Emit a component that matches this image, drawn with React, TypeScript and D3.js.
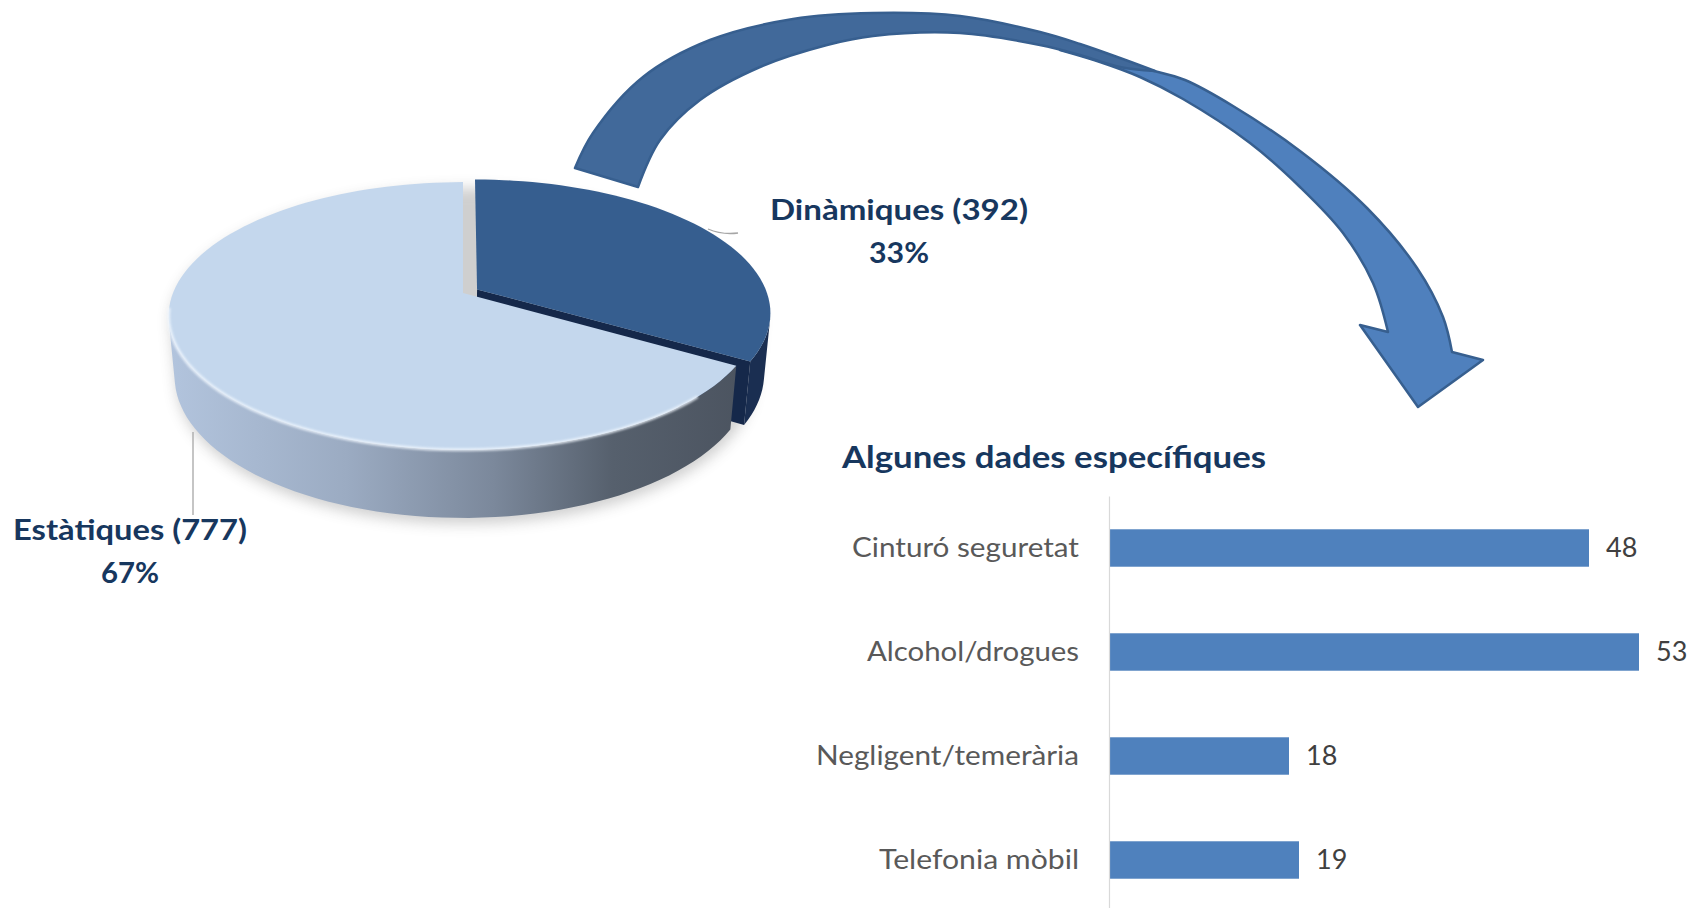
import { useEffect, useRef } from 'react';
import * as d3 from 'd3';

// pie: tipus de col·lisió
const pieNames = ['Dinàmiques', 'Estàtiques'];
const pieValues = [392, 777];
const piePercents = ['33%', '67%'];

// barres: algunes dades específiques
const barTitle = 'Algunes dades específiques';
const barCategories = ['Cinturó seguretat', 'Alcohol/drogues', 'Negligent/temerària', 'Telefonia mòbil'];
const barValues = [48, 53, 18, 19];

const W = 1688;
const H = 908;
const NAVY = '#17375e';
const FONT = 'Lato, "Open Sans", "DejaVu Sans", sans-serif';

// 3d pie projection
const P = { cx: 463, cy: 293, k: 290, r: 0.192, sin: 0.448, cos: 0.894, depth: 0.235, explode: 0.056 };

function proj(u: number, v: number, w: number): [number, number] {
  const Y = w * P.cos - v * P.sin;
  const Z = 1 - P.r * (v * P.cos + w * P.sin);
  return [P.cx + (P.k * u) / Z, P.cy - (P.k * Y) / Z];
}

function rim(a: number, w: number, off: number[]) {
  return proj(Math.sin(a) + off[0], -Math.cos(a) + off[1], w);
}

function arcPts(a0: number, a1: number, w: number, off: number[]) {
  const n = Math.max(2, Math.ceil(((a1 - a0) / Math.PI) * 80));
  return d3.range(n + 1).map(i => rim(a0 + ((a1 - a0) * i) / n, w, off));
}

const poly = (pts: [number, number][]) => (d3.line()(pts) || '') + 'Z';
const smooth = (pts: [number, number][]) => d3.line().curve(d3.curveCatmullRom.alpha(0.5))(pts) || '';

// decorative curved arrow outline
const backUpper: [number, number][] = [[575, 168], [593, 133], [643, 77], [710, 40], [793, 19], [873, 13], [960, 16], [1040, 32], [1080, 44], [1120, 58], [1155, 71]];
const backLower: [number, number][] = [[1155, 71], [1120, 67], [1080, 55], [1040, 45], [960, 33], [873, 36], [827, 45], [760, 67], [700, 100], [660, 140], [638, 187]];
const frontOuter: [number, number][] = [[1060, 46], [1110, 60], [1150, 70], [1185, 80], [1233, 106], [1300, 151], [1367, 208], [1417, 268], [1443, 317], [1452, 352]];
const frontHead: [number, number][] = [[1483, 360], [1418, 407], [1360, 325]];
const frontInner: [number, number][] = [[1388, 332], [1373, 283], [1343, 233], [1300, 187], [1250, 143], [1183, 99], [1140, 77], [1100, 62], [1060, 50]];

function App() {
  const axisRef = useRef<SVGGElement>(null);

  const x = d3.scaleLinear().domain([0, d3.max(barValues) as number]).range([1109, 1639]);
  const y = d3.scaleBand().domain(barCategories).range([496, 912]).paddingInner(0.64).paddingOuter(0.32);
  const catWidths = [227, 212, 263, 200];

  useEffect(() => {
    const axis = d3.axisLeft(y).tickSize(0).tickPadding(30);
    const g = d3.select(axisRef.current).attr('transform', `translate(${x(0)},0)`).call(axis);
    g.select('.domain').attr('stroke', '#d9d9d9').attr('stroke-width', 1.2);
    g.selectAll('text')
      .attr('fill', '#595959')
      .attr('font-family', FONT)
      .attr('font-size', 27)
      .attr('dy', '0.35em')
      .attr('textLength', (_d, i) => catWidths[i])
      .attr('lengthAdjust', 'spacingAndGlyphs');
    // eslint-disable-next-line
  }, []);

  // pie geometry
  const arcs = d3.pie<number>().sort(null)(pieValues);
  const D = -P.depth;
  const s1 = Math.acos(-P.r / P.cos);
  const s2 = 2 * Math.PI - s1;

  const slices = arcs.map((a, i) => {
    const mid = (a.startAngle + a.endAngle) / 2;
    const e = i === 0 ? P.explode : 0;
    const off = [e * Math.sin(mid), -e * Math.cos(mid)];
    const apexT = proj(off[0], off[1], 0);
    const apexB = proj(off[0], off[1], D);
    const top = poly([apexT, ...arcPts(a.startAngle, a.endAngle, 0, off)]);
    const lo = Math.max(a.startAngle, s1);
    const hi = Math.min(a.endAngle, s2);
    const side = lo < hi ? poly([...arcPts(lo, hi, 0, off), ...arcPts(lo, hi, D, off).reverse()]) : null;
    const face = poly([apexT, rim(a.endAngle, 0, off), rim(a.endAngle, D, off), apexB]);
    return { top, side, face, i };
  });

  const shadow = poly([...arcPts(0, 2 * Math.PI, 0, [0, 0])]);
  const shadowSide = poly([...arcPts(s1, s2, 0, [0, 0]), ...arcPts(s1, s2, D, [0, 0]).reverse()]);
  const rimHi = d3.line()(arcPts(2.35, 4.6, 0, [0, 0])) || '';

  const backPath = smooth(backUpper) + smooth(backLower).replace(/^M/, 'L') + 'Z';
  const frontPath = smooth(frontOuter) + 'L' + frontHead.map(p => p.join(',')).join('L') + smooth(frontInner).replace(/^M/, 'L') + 'Z';

  return (
    <svg width={W} height={H} style={{ position: 'absolute', left: 0, top: 0, background: '#fff' }}>
      <defs>
        <filter id="blur6" x="-20%" y="-20%" width="140%" height="140%">
          <feGaussianBlur stdDeviation="7" />
        </filter>
        <filter id="blur1">
          <feGaussianBlur stdDeviation="1.2" />
        </filter>
        <linearGradient id="sideLight" gradientUnits="userSpaceOnUse" x1="170" y1="0" x2="760" y2="0">
          <stop offset="0" stopColor="#b2c4dd" />
          <stop offset="0.3" stopColor="#9babc2" />
          <stop offset="0.55" stopColor="#7b889b" />
          <stop offset="0.75" stopColor="#56606d" />
          <stop offset="1" stopColor="#4a525e" />
        </linearGradient>
      </defs>

      {/* arrow */}
      <path d={frontPath} fill="#4f80bd" stroke="#375f8f" strokeWidth={2.5} strokeLinejoin="round" />
      <path d={backPath} fill="#41699a" stroke="#375f8f" strokeWidth={2.5} strokeLinejoin="round" />

      {/* pie shadow */}
      <g transform="translate(2,6)" opacity={0.28} filter="url(#blur6)">
        <path d={shadow} fill="#555" />
        <path d={shadowSide} fill="#555" />
      </g>

      {/* dark slice (exploded) */}
      {slices.filter(s => s.i === 0).map(s => (
        <g key="dark">
          <path d={s.face} fill="#15284a" />
          {s.side && <path d={s.side} fill="#1a2e51" />}
          <path d={s.top} fill="#365e8f" />
        </g>
      ))}
      {/* light slice */}
      {slices.filter(s => s.i === 1).map(s => (
        <g key="light">
          {s.side && <path d={s.side} fill="url(#sideLight)" />}
          <path d={s.top} fill="#c4d7ed" />
        </g>
      ))}
      <path d={rimHi} fill="none" stroke="#f2f8ff" strokeWidth={3} opacity={0.8} filter="url(#blur1)" />

      {/* leader lines */}
      <line x1={193} y1={432} x2={193} y2={515} stroke="#a6a6a6" strokeWidth={1.3} />
      <path d="M708,229 Q722,235 738,233" fill="none" stroke="#a6a6a6" strokeWidth={1.3} />

      {/* pie labels */}
      <g fontFamily={FONT} fontWeight="bold" fontSize={29} fill={NAVY} textAnchor="middle">
        <text x={899} y={220} textLength={258} lengthAdjust="spacingAndGlyphs">{`${pieNames[0]} (${pieValues[0]})`}</text>
        <text x={899} y={263} textLength={60} lengthAdjust="spacingAndGlyphs">{piePercents[0]}</text>
        <text x={130} y={540} textLength={234} lengthAdjust="spacingAndGlyphs">{`${pieNames[1]} (${pieValues[1]})`}</text>
        <text x={130} y={583} textLength={58} lengthAdjust="spacingAndGlyphs">{piePercents[1]}</text>
      </g>

      {/* bar chart */}
      <text x={842} y={468} fontFamily={FONT} fontWeight="bold" fontSize={31} fill={NAVY} textLength={424} lengthAdjust="spacingAndGlyphs">{barTitle}</text>
      <g>
        {barCategories.map((c, i) => (
          <rect key={c} x={x(0)} y={y(c)} width={x(barValues[i]) - x(0)} height={y.bandwidth()} fill="#4f81bd" />
        ))}
        {barCategories.map((c, i) => (
          <text key={c} x={x(barValues[i]) + 17} y={(y(c) as number) + y.bandwidth() / 2} dy="0.35em" fontFamily={FONT} fontSize={27} fill="#404040">
            {barValues[i]}
          </text>
        ))}
      </g>
      <g ref={axisRef}></g>
    </svg>
  );
}

export default App;
